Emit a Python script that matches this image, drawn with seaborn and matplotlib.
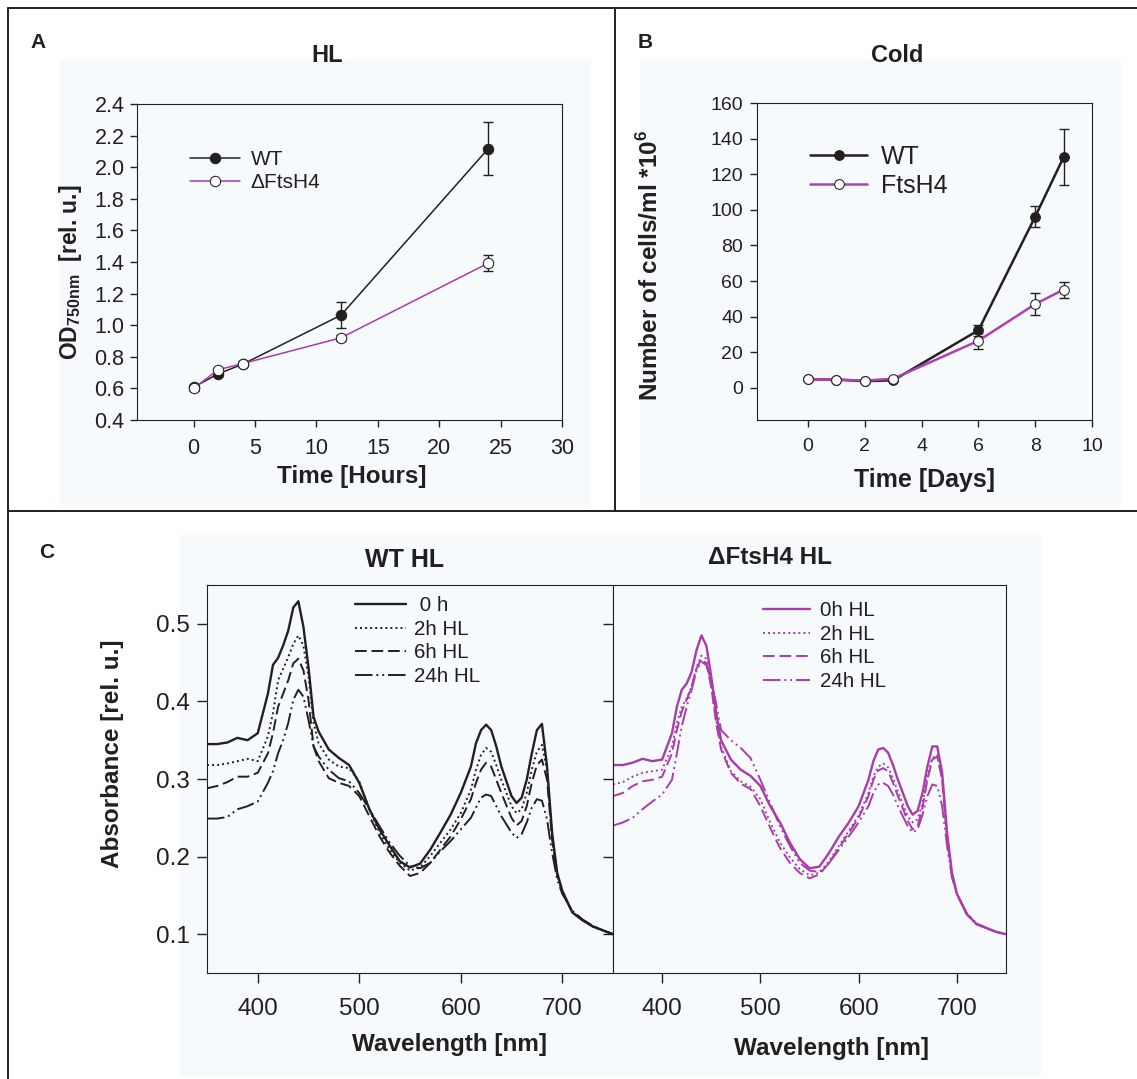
import numpy as np
import pandas as pd
import seaborn as sns
import matplotlib.pyplot as plt
from matplotlib.lines import Line2D
from matplotlib.patches import Rectangle

### panel A - growth in high light (OD750)
hl_hours = [0, 2, 4, 12, 24]
hl_wt = [0.607, 0.692, 0.753, 1.063, 2.118]
hl_wt_err = [0.015, 0.012, 0.012, 0.082, 0.168]
hl_ftsh4 = [0.600, 0.718, 0.757, 0.920, 1.393]
hl_ftsh4_err = [0.015, 0.012, 0.010, 0.020, 0.050]

### panel B - growth in cold (cells/ml)
cold_days = [0, 1, 2, 3, 6, 8, 9]
cold_wt = [4.9, 4.7, 3.8, 4.3, 32.4, 96.2, 129.6]
cold_wt_err = [0.5, 0.5, 0.5, 0.5, 3.2, 6.0, 15.7]
cold_ftsh4 = [4.9, 4.7, 4.1, 5.2, 26.5, 47.1, 55.2]
cold_ftsh4_err = [0.5, 0.5, 0.5, 0.5, 4.4, 6.0, 4.5]

### panel C - absorption spectra
wl = [350, 360, 370, 380, 390, 400, 410, 415, 420, 425, 430, 435, 440, 445, 450,
      455, 460, 470, 480, 490, 500, 510, 520, 530, 540, 550, 560, 570, 580, 590,
      600, 610, 615, 620, 625, 630, 635, 640, 650, 655, 660, 665, 670, 675, 680,
      685, 690, 695, 700, 710, 720, 730, 740, 750]

wt_0h = [0.345, 0.345, 0.347, 0.353, 0.350, 0.359, 0.410, 0.447, 0.456, 0.472, 0.491,
         0.521, 0.529, 0.496, 0.444, 0.380, 0.361, 0.338, 0.327, 0.318, 0.295, 0.261,
         0.235, 0.214, 0.194, 0.186, 0.191, 0.209, 0.231, 0.254, 0.282, 0.316, 0.346,
         0.363, 0.370, 0.363, 0.342, 0.316, 0.278, 0.269, 0.276, 0.299, 0.333, 0.363,
         0.371, 0.316, 0.231, 0.179, 0.156, 0.128, 0.118, 0.110, 0.105, 0.100]
wt_2h = [0.318, 0.318, 0.320, 0.323, 0.326, 0.323, 0.355, 0.385, 0.427, 0.442, 0.457,
         0.474, 0.485, 0.472, 0.432, 0.372, 0.346, 0.325, 0.316, 0.314, 0.297, 0.261,
         0.231, 0.209, 0.192, 0.182, 0.186, 0.201, 0.218, 0.235, 0.256, 0.286, 0.312,
         0.331, 0.340, 0.335, 0.318, 0.299, 0.265, 0.256, 0.261, 0.282, 0.312, 0.335,
         0.344, 0.312, 0.227, 0.179, 0.156, 0.128, 0.118, 0.110, 0.105, 0.100]
wt_6h = [0.288, 0.291, 0.296, 0.303, 0.303, 0.308, 0.333, 0.359, 0.393, 0.410, 0.427,
         0.449, 0.455, 0.440, 0.402, 0.342, 0.323, 0.301, 0.295, 0.291, 0.278, 0.252,
         0.226, 0.205, 0.188, 0.175, 0.179, 0.192, 0.209, 0.226, 0.248, 0.274, 0.295,
         0.312, 0.321, 0.316, 0.299, 0.282, 0.250, 0.240, 0.246, 0.265, 0.295, 0.318,
         0.325, 0.299, 0.222, 0.177, 0.154, 0.128, 0.118, 0.110, 0.105, 0.100]
wt_24h = [0.249, 0.249, 0.251, 0.261, 0.265, 0.271, 0.295, 0.310, 0.333, 0.350, 0.372,
          0.402, 0.415, 0.406, 0.376, 0.342, 0.329, 0.312, 0.301, 0.297, 0.282, 0.261,
          0.239, 0.218, 0.201, 0.188, 0.185, 0.192, 0.207, 0.220, 0.235, 0.250, 0.263,
          0.276, 0.280, 0.278, 0.265, 0.252, 0.231, 0.224, 0.229, 0.244, 0.263, 0.274,
          0.272, 0.248, 0.205, 0.171, 0.152, 0.130, 0.119, 0.111, 0.105, 0.100]

ko_0h = [0.318, 0.318, 0.321, 0.326, 0.323, 0.325, 0.359, 0.393, 0.415, 0.423, 0.438,
         0.466, 0.485, 0.472, 0.432, 0.385, 0.350, 0.325, 0.312, 0.304, 0.291, 0.265,
         0.244, 0.218, 0.197, 0.185, 0.187, 0.205, 0.226, 0.244, 0.265, 0.299, 0.323,
         0.338, 0.340, 0.334, 0.318, 0.299, 0.265, 0.254, 0.259, 0.282, 0.316, 0.342,
         0.342, 0.308, 0.231, 0.179, 0.152, 0.126, 0.113, 0.108, 0.103, 0.100]
ko_2h = [0.293, 0.296, 0.303, 0.308, 0.310, 0.312, 0.342, 0.372, 0.393, 0.404, 0.419,
         0.444, 0.459, 0.455, 0.419, 0.376, 0.342, 0.310, 0.297, 0.290, 0.274, 0.244,
         0.218, 0.199, 0.184, 0.176, 0.179, 0.194, 0.214, 0.233, 0.253, 0.282, 0.303,
         0.316, 0.320, 0.315, 0.301, 0.284, 0.252, 0.244, 0.248, 0.269, 0.303, 0.327,
         0.331, 0.301, 0.227, 0.177, 0.152, 0.126, 0.113, 0.108, 0.103, 0.100]
ko_6h = [0.278, 0.282, 0.291, 0.297, 0.299, 0.303, 0.333, 0.363, 0.387, 0.402, 0.419,
         0.442, 0.455, 0.449, 0.419, 0.372, 0.338, 0.308, 0.294, 0.287, 0.265, 0.237,
         0.211, 0.192, 0.179, 0.172, 0.177, 0.192, 0.211, 0.231, 0.250, 0.278, 0.299,
         0.311, 0.314, 0.310, 0.295, 0.278, 0.246, 0.235, 0.239, 0.263, 0.299, 0.325,
         0.329, 0.299, 0.224, 0.176, 0.152, 0.126, 0.113, 0.108, 0.103, 0.100]
ko_24h = [0.240, 0.244, 0.250, 0.261, 0.271, 0.280, 0.299, 0.333, 0.368, 0.393, 0.415,
          0.440, 0.451, 0.447, 0.427, 0.397, 0.363, 0.350, 0.340, 0.327, 0.299, 0.269,
          0.239, 0.214, 0.192, 0.182, 0.180, 0.192, 0.209, 0.226, 0.244, 0.265, 0.282,
          0.293, 0.295, 0.291, 0.280, 0.265, 0.239, 0.231, 0.235, 0.254, 0.278, 0.293,
          0.291, 0.265, 0.214, 0.173, 0.152, 0.127, 0.114, 0.108, 0.103, 0.100]

wt_labels = [' 0 h', '2h HL', '6h HL', '24h HL']
ko_labels = ['0h HL', '2h HL', '6h HL', '24h HL']

dark = '#231f20'
mag = '#a83ca8'
tint = '#f7fafd'
styles = ['-', (0, (1, 1.6)), (0, (6, 2.5)), (0, (9, 2, 1, 2, 1, 2))]

sns.set_style('ticks')
plt.rcParams['font.family'] = ['Liberation Sans', 'DejaVu Sans']
plt.rcParams['mathtext.fontset'] = 'custom'
plt.rcParams['mathtext.rm'] = 'Liberation Sans'
plt.rcParams['mathtext.bf'] = 'Liberation Sans:bold'
plt.rcParams['xtick.direction'] = 'out'
plt.rcParams['ytick.direction'] = 'out'
plt.rcParams['axes.edgecolor'] = dark
plt.rcParams['xtick.color'] = dark
plt.rcParams['ytick.color'] = dark
plt.rcParams['text.color'] = dark

W, H = 1137, 1079
fig = plt.figure(figsize=(W / 100, H / 100), dpi=100, facecolor='white')


def box(l, t, r, b):
    return [l / W, 1 - b / H, (r - l) / W, (b - t) / H]


def fpos(x, y):
    return x / W, 1 - y / H


# light backgrounds behind the panels
for l, t, r, b in [(60, 60, 590, 505), (640, 60, 1120, 505), (180, 535, 1040, 1075)]:
    fig.patches.append(Rectangle((l / W, 1 - b / H), (r - l) / W, (b - t) / H,
                                 transform=fig.transFigure, color=tint, zorder=-5))

# frame lines
for xs, ys in [([8, 1137], [8, 8]), ([8, 8], [8, 1079]), ([615, 615], [8, 511]),
               ([8, 1137], [511, 511])]:
    fig.add_artist(Line2D([x / W for x in xs], [1 - y / H for y in ys],
                          color=dark, lw=1.4))

### Panel A
axA = fig.add_axes(box(137, 104, 562, 420))
axA.set_facecolor(tint)
axA.errorbar(hl_hours, hl_wt, yerr=hl_wt_err, fmt='none', ecolor=dark,
             elinewidth=1.0, capsize=3.5, capthick=1.0, zorder=2)
axA.errorbar(hl_hours, hl_ftsh4, yerr=hl_ftsh4_err, fmt='none', ecolor=dark,
             elinewidth=1.0, capsize=3.5, capthick=1.0, zorder=2)
sns.lineplot(x=hl_hours, y=hl_wt, ax=axA, color=dark, lw=1.1, marker='o',
             markersize=7.5, markerfacecolor=dark, markeredgecolor=dark, label='WT', zorder=3)
sns.lineplot(x=hl_hours, y=hl_ftsh4, ax=axA, color=mag, lw=1.1, marker='o',
             markersize=7.5, markerfacecolor='white', markeredgecolor=dark,
             label='\u0394FtsH4', zorder=4)
axA.set_xlim(-4.6, 30)
axA.set_ylim(0.4, 2.4)
axA.set_xticks(range(0, 31, 5))
axA.set_yticks(np.arange(0.4, 2.41, 0.2))
axA.set_yticklabels([f'{v:.1f}' for v in np.arange(0.4, 2.41, 0.2)])
axA.tick_params(labelsize=15.5, length=5, width=1, pad=4)
axA.tick_params(axis='x', pad=8)
axA.legend(loc='upper left', bbox_to_anchor=(0.106, 0.88), frameon=False, fontsize=15,
           handlelength=2.4, handletextpad=0.5, labelspacing=0.2, borderaxespad=0)
fig.text(*fpos(327, 55), 'HL', ha='center', va='center', fontsize=17, fontweight='bold')
fig.text(*fpos(38, 42), 'A', ha='center', va='center', fontsize=15, fontweight='bold')
fig.text(*fpos(352, 477), 'Time [Hours]', ha='center', va='center', fontsize=17.5,
         fontweight='bold')
fig.text(*fpos(71, 272), r'OD$_{\mathbf{750nm}}$  [rel. u.]', ha='center', va='center',
         rotation=90, fontsize=16.5, fontweight='bold')

### Panel B
axB = fig.add_axes(box(757, 103, 1092, 420))
axB.set_facecolor(tint)
axB.errorbar(cold_days, cold_wt, yerr=cold_wt_err, fmt='none', ecolor=dark,
             elinewidth=1.0, capsize=3.5, capthick=1.0, zorder=2)
axB.errorbar(cold_days, cold_ftsh4, yerr=cold_ftsh4_err, fmt='none', ecolor=dark,
             elinewidth=1.0, capsize=3.5, capthick=1.0, zorder=2)
sns.lineplot(x=cold_days, y=cold_wt, ax=axB, color=dark, lw=1.8, marker='o',
             markersize=7, markerfacecolor=dark, markeredgecolor=dark, label='WT', zorder=3)
sns.lineplot(x=cold_days, y=cold_ftsh4, ax=axB, color='#b040b0', lw=1.8, marker='o',
             markersize=7, markerfacecolor='white', markeredgecolor=dark,
             label='FtsH4', zorder=4)
axB.set_xlim(-1.8, 10)
axB.set_ylim(-18, 160)
axB.set_xticks(range(0, 11, 2))
axB.set_yticks(range(0, 161, 20))
axB.tick_params(labelsize=14, length=5, width=1, pad=5)
axB.tick_params(axis='x', pad=8)
axB.legend(loc='upper left', bbox_to_anchor=(0.128, 0.9), frameon=False, fontsize=18,
           handlelength=2.3, handletextpad=0.55, labelspacing=0.2, borderaxespad=0)
fig.text(*fpos(897, 55), 'Cold', ha='center', va='center', fontsize=17, fontweight='bold')
fig.text(*fpos(645, 42), 'B', ha='center', va='center', fontsize=15, fontweight='bold')
fig.text(*fpos(924, 480), 'Time [Days]', ha='center', va='center', fontsize=18,
         fontweight='bold')
fig.text(*fpos(650, 265), r'Number of cells/ml *10$^{\mathbf{6}}$', ha='center',
         va='center', rotation=90, fontsize=17.5, fontweight='bold')

### Panel C
axC1 = fig.add_axes(box(207, 585, 613, 973))
axC2 = fig.add_axes(box(613, 585, 1006, 973))
for ax, series, labels, col in [(axC1, [wt_0h, wt_2h, wt_6h, wt_24h], wt_labels, dark),
                                (axC2, [ko_0h, ko_2h, ko_6h, ko_24h], ko_labels, mag)]:
    ax.set_facecolor(tint)
    for vals, lab, ls in zip(series, labels, styles):
        sns.lineplot(x=wl, y=vals, ax=ax, color=col, lw=1.7 if ls == '-' else 1.4,
                     linestyle=ls, label=lab)
    ax.set_xlim(350, 750)
    ax.set_ylim(0.05, 0.55)
    ax.set_xticks([400, 500, 600, 700])
    ax.set_yticks([0.1, 0.2, 0.3, 0.4, 0.5])
    ax.tick_params(labelsize=17.5, length=7, width=1, pad=11)
    ax.tick_params(axis='y', pad=5)
axC1.set_yticklabels(['0.1', '0.2', '0.3', '0.4', '0.5'])
axC2.tick_params(axis='y', labelleft=False)
axC1.legend(loc='upper left', bbox_to_anchor=(0.345, 0.992), frameon=False, fontsize=14.8,
            handlelength=2.45, handletextpad=0.4, labelspacing=0.22, borderaxespad=0)
axC2.legend(loc='upper left', bbox_to_anchor=(0.361, 0.979), frameon=False, fontsize=14.8,
            handlelength=2.3, handletextpad=0.45, labelspacing=0.22, borderaxespad=0)
fig.text(*fpos(47, 552), 'C', ha='center', va='center', fontsize=15, fontweight='bold')
fig.text(*fpos(405, 560), 'WT HL', ha='center', va='center', fontsize=18, fontweight='bold')
fig.text(*fpos(770, 557), '\u0394FtsH4 HL', ha='center', va='center', fontsize=17.5,
         fontweight='bold')
fig.text(*fpos(113, 754), 'Absorbance [rel. u.]', ha='center', va='center', rotation=90,
         fontsize=17.5, fontweight='bold')
fig.text(*fpos(449, 1045), 'Wavelength [nm]', ha='center', va='center', fontsize=17.5,
         fontweight='bold')
fig.text(*fpos(832, 1048), 'Wavelength [nm]', ha='center', va='center', fontsize=17.5,
         fontweight='bold')

fig.savefig('out.png', dpi=100, facecolor='white')
